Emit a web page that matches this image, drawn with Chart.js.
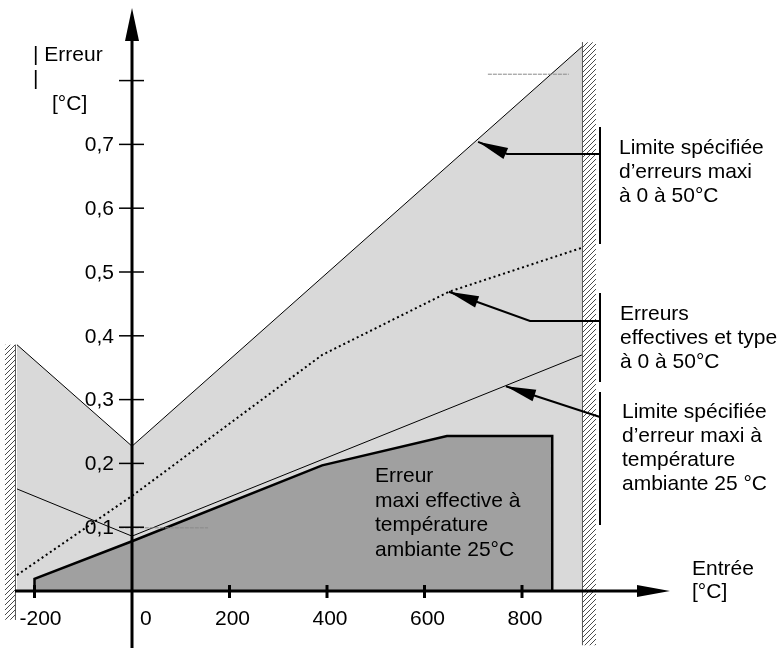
<!DOCTYPE html>
<html>
<head>
<meta charset="utf-8">
<script src="https://cdn.jsdelivr.net/npm/chart.js@4.4.1/dist/chart.umd.min.js"></script>
<style>
  html, body { margin: 0; padding: 0; background: #fff; }
  #wrap { width: 783px; height: 648px; }
</style>
</head>
<body>
<div id="wrap"><canvas id="chart" width="783" height="648"></canvas></div>
<script>
// ── Values ──
const xTicks = [-200, 0, 200, 400, 600, 800];
const xTickLabels = ['-200', '0', '200', '400', '600', '800'];
const yTicks = [0.1, 0.2, 0.3, 0.4, 0.5, 0.6, 0.7, 0.8];
const yTickLabels = ['0,1', '0,2', '0,3', '0,4', '0,5', '0,6', '0,7', ''];

// limite spécifiée 0..50°C (enveloppe claire)
const limitX = [-236, 0, 923];
const limitY = [0.386, 0.227, 0.853];
// erreurs effectives et type 0..50°C (pointillé)
const typX = [-236, 0, 390, 650, 923];
const typY = [0.025, 0.149, 0.370, 0.469, 0.538];
// limite spécifiée à 25°C (trait fin)
const ambX = [-236, 0, 923];
const ambY = [0.160, 0.086, 0.370];
// erreur maxi effective à 25°C (zone foncée)
const effX = [-200, -200, 0, 390, 646, 862, 862];
const effY = [0, 0.019, 0.078, 0.197, 0.243, 0.243, 0];
// traits gris résiduels
const ghostAX = [-25, 156], ghostAY = [0.099, 0.099];
const ghostBX = [730, 896], ghostBY = [0.81, 0.81];
// limites de la plage (murs hachurés)
const wallLeft = { x: -236, top: 0.386, bottom: -0.045 };
const wallRight = { x: 923, top: 0.86, bottom: -0.085 };

const pts = (xs, ys) => xs.map((x, i) => ({ x, y: ys[i] }));
const FONT = '21px "Liberation Sans", Arial, sans-serif';

function hatchPattern(ctx) {
  const c = document.createElement('canvas');
  c.width = 5; c.height = 5;
  const g = c.getContext('2d');
  g.fillStyle = '#fff'; g.fillRect(0, 0, 5, 5);
  g.strokeStyle = '#4a4a4a'; g.lineWidth = 1;
  g.beginPath(); g.moveTo(-1, 6); g.lineTo(6, -1); g.stroke();
  return ctx.createPattern(c, 'repeat');
}

function head(ctx, fx, fy, tx, ty) {
  const a = Math.atan2(ty - fy, tx - fx), len = 30, half = 6;
  const bx = tx - len * Math.cos(a), by = ty - len * Math.sin(a);
  ctx.beginPath();
  ctx.moveTo(tx, ty);
  ctx.lineTo(bx + half * Math.sin(a), by - half * Math.cos(a));
  ctx.lineTo(bx - half * Math.sin(a), by + half * Math.cos(a));
  ctx.closePath();
  ctx.fill();
}

function arrow(ctx, path) {
  ctx.beginPath();
  ctx.moveTo(path[0][0], path[0][1]);
  for (let i = 1; i < path.length; i++) ctx.lineTo(path[i][0], path[i][1]);
  ctx.stroke();
  const n = path.length;
  head(ctx, path[n - 2][0], path[n - 2][1], path[n - 1][0], path[n - 1][1]);
}

function lines(ctx, arr, x, y, step) {
  arr.forEach((t, i) => ctx.fillText(t, x, y + i * step));
}

const decor = {
  id: 'decor',
  afterDatasetsDraw(chart) {
    const { ctx, scales: { x, y } } = chart;
    const px = v => x.getPixelForValue(v), py = v => y.getPixelForValue(v);
    const x0 = px(0), y0 = py(0);
    ctx.save();

    // murs hachurés
    ctx.fillStyle = hatchPattern(ctx);
    ctx.strokeStyle = '#555'; ctx.lineWidth = 1;
    const lw = px(wallLeft.x);
    ctx.fillRect(lw - 12, py(wallLeft.top), 11, py(wallLeft.bottom) - py(wallLeft.top));
    ctx.beginPath(); ctx.moveTo(lw - 1.5, py(wallLeft.top)); ctx.lineTo(lw - 1.5, py(wallLeft.bottom)); ctx.stroke();
    const rw = px(wallRight.x);
    ctx.fillRect(rw, py(wallRight.top), 14, py(wallRight.bottom) - py(wallRight.top));
    ctx.beginPath(); ctx.moveTo(rw + 0.5, py(wallRight.top)); ctx.lineTo(rw + 0.5, py(wallRight.bottom)); ctx.stroke();

    // axes
    ctx.strokeStyle = '#000'; ctx.fillStyle = '#000';
    ctx.lineWidth = 3;
    ctx.beginPath(); ctx.moveTo(15, y0); ctx.lineTo(640, y0); ctx.stroke();
    ctx.beginPath(); ctx.moveTo(x0, 648); ctx.lineTo(x0, 38); ctx.stroke();
    ctx.beginPath(); ctx.moveTo(670, y0); ctx.lineTo(637, y0 - 6); ctx.lineTo(637, y0 + 6); ctx.closePath(); ctx.fill();
    ctx.beginPath(); ctx.moveTo(x0, 8); ctx.lineTo(x0 - 7, 41); ctx.lineTo(x0 + 7, 41); ctx.closePath(); ctx.fill();

    // graduations
    ctx.lineWidth = 1.5;
    yTicks.forEach(v => { ctx.beginPath(); ctx.moveTo(x0 - 13, py(v)); ctx.lineTo(x0 + 12, py(v)); ctx.stroke(); });
    ctx.lineWidth = 3;
    xTicks.forEach(v => { if (v !== 0) { ctx.beginPath(); ctx.moveTo(px(v), y0 - 6); ctx.lineTo(px(v), y0 + 7); ctx.stroke(); } });

    ctx.font = FONT;
    ctx.textBaseline = 'middle'; ctx.textAlign = 'right';
    yTicks.forEach((v, i) => ctx.fillText(yTickLabels[i], x0 - 18, py(v) + 1));
    ctx.textBaseline = 'alphabetic';
    xTicks.forEach((v, i) => {
      if (v === 0) { ctx.textAlign = 'left'; ctx.fillText(xTickLabels[i], x0 + 8, 625); }
      else if (v < 0) { ctx.textAlign = 'left'; ctx.fillText(xTickLabels[i], px(v) - 15, 625); }
      else { ctx.textAlign = 'center'; ctx.fillText(xTickLabels[i], px(v) + 3, 625); }
    });

    // titres des axes
    ctx.textAlign = 'left';
    ctx.fillText('| Erreur', 33, 61);
    ctx.fillText('|', 33, 85);
    ctx.fillText('[°C]', 52, 110);
    ctx.fillText('Entrée', 692, 575);
    ctx.fillText('[°C]', 692, 598);

    // flèches d'annotation
    ctx.lineWidth = 2;
    ctx.beginPath(); ctx.moveTo(600, 127); ctx.lineTo(600, 244); ctx.stroke();
    ctx.beginPath(); ctx.moveTo(600, 293); ctx.lineTo(600, 382); ctx.stroke();
    ctx.beginPath(); ctx.moveTo(600, 392); ctx.lineTo(600, 525); ctx.stroke();
    arrow(ctx, [[600, 154], [507, 154], [px(710), py(0.704)]]);
    arrow(ctx, [[600, 321], [530, 321], [px(650), py(0.469)]]);
    arrow(ctx, [[600, 417], [px(767), py(0.321)]]);

    lines(ctx, ['Limite spécifiée', 'd’erreurs maxi', 'à 0 à 50°C'], 619, 154, 24);
    lines(ctx, ['Erreurs', 'effectives et type', 'à 0 à 50°C'], 620, 320, 24);
    lines(ctx, ['Limite spécifiée', 'd’erreur maxi à', 'température', 'ambiante 25 °C'], 622, 418, 24);
    lines(ctx, ['Erreur', 'maxi effective à', 'température', 'ambiante 25°C'], 375, 482, 24.5);

    ctx.restore();
  }
};

new Chart(document.getElementById('chart'), {
  type: 'line',
  data: {
    datasets: [
      { data: pts(ghostAX, ghostAY), borderColor: '#8a8a8a', borderWidth: 1, borderDash: [4, 1], pointRadius: 0, fill: false, order: 1 },
      { data: pts(ghostBX, ghostBY), borderColor: '#8a8a8a', borderWidth: 1, borderDash: [4, 1], pointRadius: 0, fill: false, order: 1 },
      { data: pts(typX, typY), borderColor: '#000', borderWidth: 2, borderDash: [2, 3], pointRadius: 0, fill: false, order: 2 },
      { data: pts(ambX, ambY), borderColor: '#000', borderWidth: 1, pointRadius: 0, fill: false, order: 3 },
      { data: pts(effX, effY), borderColor: '#000', borderWidth: 2.5, backgroundColor: '#a0a0a0', pointRadius: 0, fill: 'origin', order: 4 },
      { data: pts(limitX, limitY), borderColor: '#000', borderWidth: 1, backgroundColor: '#d9d9d9', pointRadius: 0, fill: 'origin', order: 5 }
    ]
  },
  options: {
    responsive: false,
    devicePixelRatio: 1,
    animation: false,
    layout: { padding: 0 },
    plugins: { legend: { display: false }, tooltip: { enabled: false } },
    elements: { line: { tension: 0 } },
    scales: {
      x: { type: 'linear', min: -270.8, max: 1335.4, display: false },
      y: { type: 'linear', min: -0.0893, max: 0.9263, display: false }
    }
  },
  plugins: [decor]
});
</script>
</body>
</html>
